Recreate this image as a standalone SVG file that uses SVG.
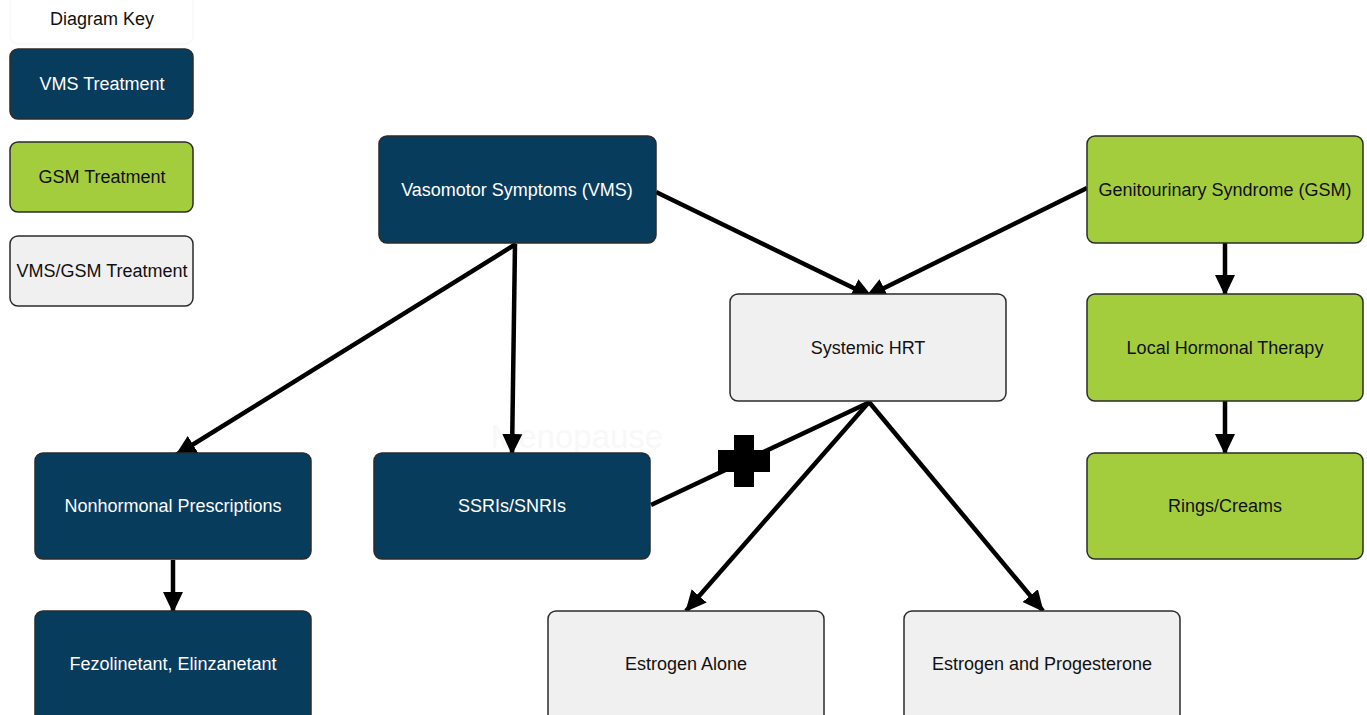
<svg xmlns="http://www.w3.org/2000/svg" width="1367" height="715" viewBox="0 0 1367 715">
<defs>
<style>
.n rect{stroke:#2b2b2b;stroke-width:1.5}
.vms rect{fill:#083c5d}
.gsm rect{fill:#a3cd3d}
.both rect{fill:#f0f0f0}
text{font-family:"Liberation Sans",Arial,sans-serif;font-size:18px;text-anchor:middle;dominant-baseline:central}
.vms text{fill:#ffffff}
.gsm text,.both text{fill:#111111}
.c line{stroke:#000;stroke-width:4.5}
</style>
<marker id="ah" markerUnits="userSpaceOnUse" markerWidth="22" markerHeight="22" refX="20" refY="11" orient="auto" viewBox="0 0 22 22">
<path d="M0,1 L21,11 L0,21 z" fill="#000"/>
</marker>
</defs>
<rect width="1367" height="715" fill="#ffffff"/>
<text x="577" y="436" style="font-size:33px;fill:#f8f8f8">Menopause</text>
<g id="key-title">
<rect x="10" y="-6" width="183" height="50" rx="8" fill="#ffffff" stroke="#f5f5f5" stroke-width="1"/>
<text x="102" y="19" fill="#111">Diagram Key</text>
</g>
<g id="key-vms" class="n vms"><rect x="10" y="49" width="183" height="70" rx="8"/><text x="102" y="84">VMS Treatment</text></g>
<g id="key-gsm" class="n gsm"><rect x="10" y="142" width="183" height="70" rx="8"/><text x="102" y="177">GSM Treatment</text></g>
<g id="key-both" class="n both"><rect x="10" y="236" width="183" height="70" rx="8"/><text x="102" y="271">VMS/GSM Treatment</text></g>

<g id="connectors" class="c">
<line x1="656" y1="192" x2="872" y2="297" marker-end="url(#ah)"/>
<line x1="1087" y1="188" x2="866" y2="297" marker-end="url(#ah)"/>
<line x1="516" y1="244" x2="176" y2="455" marker-end="url(#ah)"/>
<line x1="515" y1="244" x2="512" y2="454" marker-end="url(#ah)"/>
<line x1="173" y1="560" x2="173" y2="612" marker-end="url(#ah)"/>
<line x1="1225" y1="243" x2="1225" y2="295" marker-end="url(#ah)"/>
<line x1="1225" y1="401" x2="1225" y2="454" marker-end="url(#ah)"/>
<line x1="869" y1="402" x2="686" y2="611" marker-end="url(#ah)"/>
<line x1="869" y1="402" x2="1043" y2="611" marker-end="url(#ah)"/>
<line x1="651" y1="505" x2="870" y2="402"/>
<path d="M734,435 H754 V450 H770 V472 H754 V487 H734 V472 H718 V450 H734 z" fill="#000"/>
</g>

<g id="vms" class="n vms"><rect x="379" y="136" width="277" height="107" rx="8"/><text x="517" y="190">Vasomotor Symptoms (VMS)</text></g>
<g id="gsm" class="n gsm"><rect x="1087" y="136" width="276" height="107" rx="8"/><text x="1225" y="190">Genitourinary Syndrome (GSM)</text></g>
<g id="systemic-hrt" class="n both"><rect x="730" y="294" width="276" height="107" rx="8"/><text x="868" y="348">Systemic HRT</text></g>
<g id="local-hormonal" class="n gsm"><rect x="1087" y="294" width="276" height="107" rx="8"/><text x="1225" y="348">Local Hormonal Therapy</text></g>
<g id="nonhormonal" class="n vms"><rect x="35" y="453" width="276" height="106" rx="8"/><text x="173" y="506">Nonhormonal Prescriptions</text></g>
<g id="ssri" class="n vms"><rect x="374" y="453" width="276" height="106" rx="8"/><text x="512" y="506">SSRIs/SNRIs</text></g>
<g id="rings" class="n gsm"><rect x="1087" y="453" width="276" height="106" rx="8"/><text x="1225" y="506">Rings/Creams</text></g>
<g id="fezolinetant" class="n vms"><rect x="35" y="611" width="276" height="112" rx="8"/><text x="173" y="664">Fezolinetant, Elinzanetant</text></g>
<g id="estrogen-alone" class="n both"><rect x="548" y="611" width="276" height="112" rx="8"/><text x="686" y="664">Estrogen Alone</text></g>
<g id="estrogen-progesterone" class="n both"><rect x="904" y="611" width="276" height="112" rx="8"/><text x="1042" y="664">Estrogen and Progesterone</text></g>
</svg>
